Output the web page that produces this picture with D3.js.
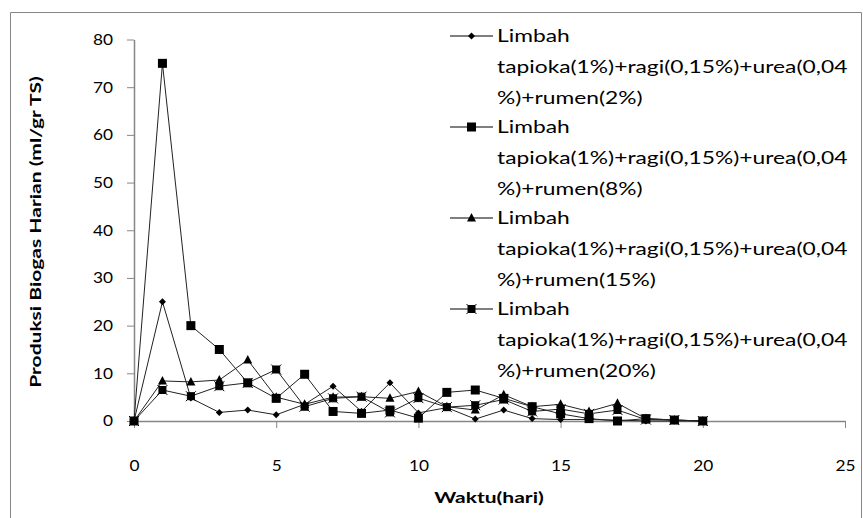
<!DOCTYPE html>
<html>
<head>
    <meta charset="UTF-8">
    <title>Produksi Biogas Harian</title>
    <script type="text/javascript" src="https://cdn.jsdelivr.net/npm/d3@7"></script>
    <style>
        body { margin: 0; background: #fff; }
        svg { display: block; font-family: Lato, "Open Sans", sans-serif; }
        .axis path, .axis line { stroke: #868686; }
        .axis text { fill: #000; font-size: 15px; font-family: Lato, sans-serif; }
    </style>
</head>
<body>
    <div id="chart"></div>
    <script>
        var width = 863, height = 518;

        // data
        var days = [0, 1, 2, 3, 4, 5, 6, 7, 8, 9, 10, 11, 12, 13, 14, 15, 16, 17, 18, 19, 20];
        var rumen2  = [0, 25, 4.8, 1.8, 2.3, 1.3, 3.5, 7.3, 2.0, 8.0, 1.7, 2.8, 0.4, 2.3, 0.5, 0.3, 0.3, 0.2, 0, 0, 0];
        var rumen8  = [0, 75, 20, 15, 8, 4.75, 9.8, 2.0, 1.6, 2.3, 0.6, 6.0, 6.5, 4.75, 3.0, 1.5, 0.5, 0, 0.5, 0.2, 0];
        var rumen15 = [0, 8.4, 8.2, 8.6, 12.8, 5.0, 3.5, 5.0, 5.1, 4.75, 6.2, 3.0, 2.3, 5.5, 3.0, 3.5, 2.0, 3.7, 0.5, 0.2, 0];
        var rumen20 = [0, 6.5, 5.2, 7.3, 8, 10.8, 3.0, 4.75, 5.1, 1.8, 4.8, 2.9, 3.3, 4.5, 2.0, 2.5, 1.5, 2.3, 0.3, 0.2, 0];
        var seriesNames = ["rumen(2%)", "rumen(8%)", "rumen(15%)", "rumen(20%)"];
        var markers = ["diamond", "square", "triangle", "star"];
        var xTicks = [0, 5, 10, 15, 20, 25];
        var yTicks = [0, 10, 20, 30, 40, 50, 60, 70, 80];

        var allSeries = [rumen2, rumen8, rumen15, rumen20];

        // the original font is set wide, stretch text horizontally to match
        var stretch = 1.34;
        function widen(sel, k) {
            sel.each(function () {
                var len = this.getComputedTextLength();
                d3.select(this).attr("textLength", len * (k || stretch)).attr("lengthAdjust", "spacingAndGlyphs");
            });
        }

        var svg = d3.select("#chart").append("svg")
            .attr("width", width).attr("height", height);

        // outer chart frame
        svg.append("path")
            .attr("d", "M10.5," + height + " V12.5 H861.5 V" + height)
            .attr("fill", "none").attr("stroke", "#868686");

        var x = d3.scaleLinear().domain([0, 25]).range([134, 845]);
        var y = d3.scaleLinear().domain([0, 80]).range([421, 39.5]);

        svg.append("g").attr("class", "axis")
            .attr("transform", "translate(134,0)")
            .call(d3.axisLeft(y).tickValues(yTicks).tickSize(7).tickSizeOuter(0).tickPadding(14));

        svg.append("g").attr("class", "axis")
            .attr("transform", "translate(0,421)")
            .call(d3.axisBottom(x).tickValues(xTicks).tickSize(7).tickSizeOuter(0).tickPadding(32));

        svg.selectAll(".axis .domain").attr("stroke-width", 1.5);
        svg.selectAll(".axis text").call(widen, 1.15);

        // axis titles
        svg.append("text")
            .attr("transform", "translate(41,232) rotate(-90)")
            .attr("text-anchor", "middle")
            .attr("font-size", 15).attr("font-weight", "bold")
            .text("Produksi Biogas Harian (ml/gr TS)")
            .call(widen, 1.4);

        svg.append("text")
            .attr("x", 489).attr("y", 503)
            .attr("text-anchor", "middle")
            .attr("font-size", 15).attr("font-weight", "bold")
            .text("Waktu(hari)")
            .call(widen, 1.4);

        function markerPath(type) {
            if (type == "diamond") return "M0,-3.5 L3.5,0 L0,3.5 L-3.5,0 Z";
            if (type == "square") return "M-4.5,-4.5 H4.5 V4.5 H-4.5 Z";
            if (type == "triangle") return "M0,-5 L4.5,3.5 L-4.5,3.5 Z";
            return "M-3.5,-3.5 H3.5 V3.5 H-3.5 Z M-5,-5 L5,5 M5,-5 L-5,5";
        }

        var line = d3.line()
            .x(function (d, i) { return x(days[i]); })
            .y(function (d) { return y(d); });

        allSeries.forEach(function (s, k) {
            svg.append("path")
                .datum(s)
                .attr("d", line)
                .attr("fill", "none")
                .attr("stroke", "#222")
                .attr("stroke-width", 1);
        });

        allSeries.forEach(function (s, k) {
            svg.selectAll(".m" + k)
                .data(s)
                .enter()
                .append("path")
                .attr("class", "m" + k)
                .attr("transform", function (d, i) { return "translate(" + x(days[i]) + "," + y(d) + ")"; })
                .attr("d", markerPath(markers[k]))
                .attr("fill", "#000")
                .attr("stroke", "#000")
                .attr("stroke-width", markers[k] == "star" ? 1 : 0);
        });

        // legend
        var legend = svg.append("g").attr("font-size", 17);
        seriesNames.forEach(function (name, k) {
            var top = 36 + k * 91;
            legend.append("line")
                .attr("x1", 450).attr("x2", 493)
                .attr("y1", top).attr("y2", top)
                .attr("stroke", "#000").attr("stroke-width", 1.2);
            legend.append("path")
                .attr("transform", "translate(471.5," + top + ")")
                .attr("d", markerPath(markers[k]))
                .attr("fill", "#000").attr("stroke", "#000")
                .attr("stroke-width", markers[k] == "star" ? 1 : 0);
            var lines = ["Limbah", "tapioka(1%)+ragi(0,15%)+urea(0,04", "%)+" + name];
            lines.forEach(function (t, j) {
                legend.append("text")
                    .attr("x", 497).attr("y", top + j * 31)
                    .attr("dy", "0.35em")
                    .text(t)
                    .call(widen);
            });
        });
    </script>
</body>
</html>
